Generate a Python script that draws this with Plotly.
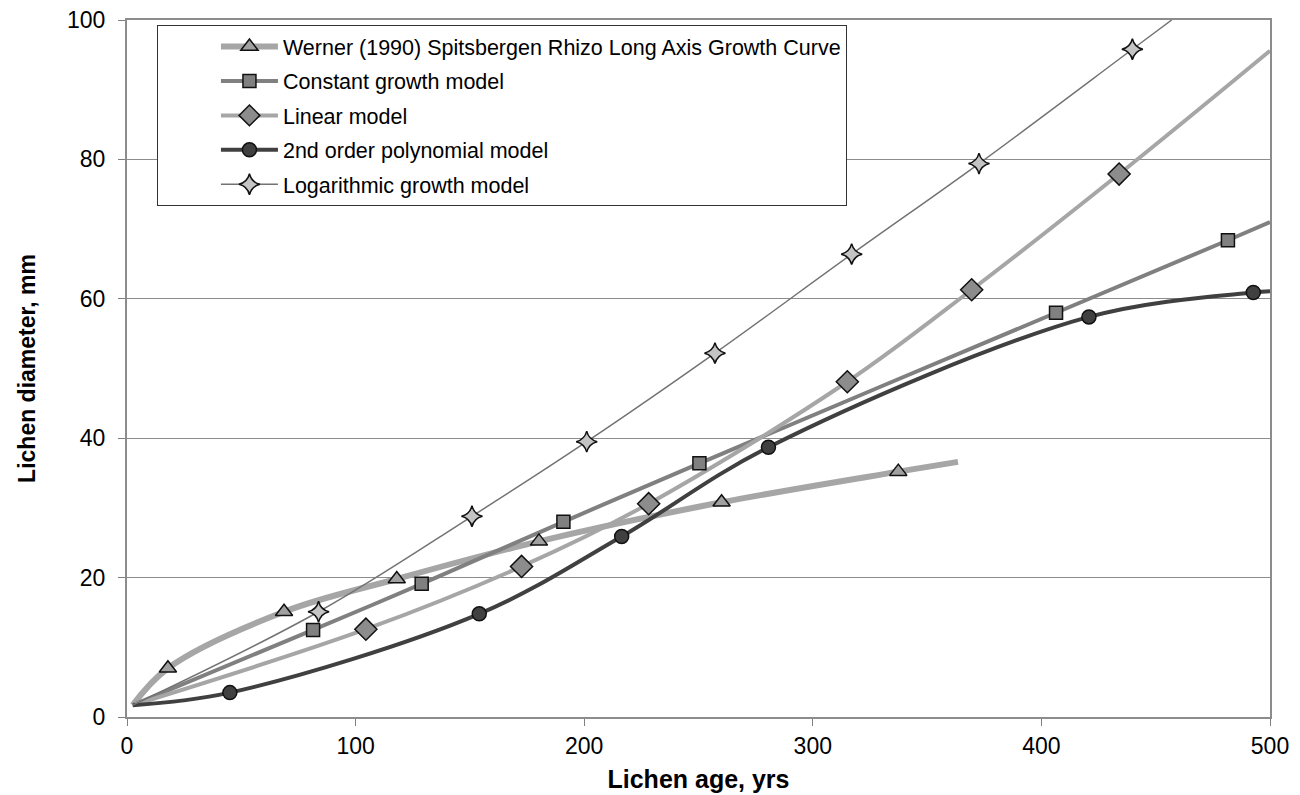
import plotly.graph_objects as go

# ---- data ----
werner_x = [2.5, 17.9, 68.7, 118.0, 180.2, 260.1, 337.4, 363.5]
werner_y = [1.7, 7.0, 15.1, 19.8, 25.2, 30.8, 35.2, 36.6]
werner_mx = [17.9, 68.7, 118.0, 180.2, 260.1, 337.4]
werner_my = [7.0, 15.1, 19.8, 25.2, 30.8, 35.2]

const_x = [2.5, 81.4, 128.9, 190.9, 250.4, 406.4, 481.6, 500.0]
const_y = [1.7, 12.5, 19.1, 28.0, 36.4, 58.0, 68.4, 71.0]
const_mx = [81.4, 128.9, 190.9, 250.4, 406.4, 481.6]
const_my = [12.5, 19.1, 28.0, 36.4, 58.0, 68.4]

lin_x = [2.5, 104.5, 172.6, 228.2, 315.1, 369.5, 434.0, 500.0]
lin_y = [1.7, 12.6, 21.6, 30.6, 48.1, 61.3, 77.9, 95.6]
lin_mx = [104.5, 172.6, 228.2, 315.1, 369.5, 434.0]
lin_my = [12.6, 21.6, 30.6, 48.1, 61.3, 77.9]

poly_x = [2.5, 45.0, 154.1, 216.4, 280.6, 420.8, 492.7, 500.0]
poly_y = [1.7, 3.5, 14.8, 25.9, 38.7, 57.4, 60.9, 61.1]
poly_mx = [45.0, 154.1, 216.4, 280.6, 420.8, 492.7]
poly_my = [3.5, 14.8, 25.9, 38.7, 57.4, 60.9]

log_x = [2.5, 83.8, 150.9, 201.1, 257.2, 317.0, 372.7, 439.8, 457.0]
log_y = [1.7, 15.1, 28.8, 39.5, 52.2, 66.4, 79.4, 95.8, 100.0]
log_mx = [83.8, 150.9, 201.1, 257.2, 317.0, 372.7, 439.8]
log_my = [15.1, 28.8, 39.5, 52.2, 66.4, 79.4, 95.8]

names = [
    "Werner (1990) Spitsbergen Rhizo Long Axis Growth Curve",
    "Constant growth model",
    "Linear model",
    "2nd order polynomial model",
    "Logarithmic growth model",
]
x_ticks = [0, 100, 200, 300, 400, 500]
y_ticks = [0, 20, 40, 60, 80, 100]

styles = [
    dict(lc="#a6a6a6", lw=6, sym="triangle-up", ms=15, mc="#a0a0a0"),
    dict(lc="#808080", lw=4, sym="square", ms=13, mc="#808080"),
    dict(lc="#a6a6a6", lw=4, sym="diamond", ms=17, mc="#8c8c8c"),
    dict(lc="#404040", lw=4, sym="circle", ms=14, mc="#404040"),
    dict(lc="#737373", lw=1.5, sym="star-diamond", ms=15, mc="#c4c4c4"),
]
series = [
    (werner_x, werner_y, werner_mx, werner_my),
    (const_x, const_y, const_mx, const_my),
    (lin_x, lin_y, lin_mx, lin_my),
    (poly_x, poly_y, poly_mx, poly_my),
    (log_x, log_y, log_mx, log_my),
]

fig = go.Figure()
for name, (lx, ly, mx, my), st in zip(names, series, styles):
    fig.add_trace(go.Scatter(x=lx, y=ly, mode="lines", showlegend=False,
                             line=dict(color=st["lc"], width=st["lw"], shape="spline", smoothing=1.0),
                             hoverinfo="skip"))
for name, (lx, ly, mx, my), st in zip(names, series, styles):
    fig.add_trace(go.Scatter(x=mx, y=my, mode="markers", showlegend=False,
                             marker=dict(symbol=st["sym"], size=st["ms"], color=st["mc"],
                                         line=dict(color="#111111", width=1.5))))
for i, (name, st) in enumerate(zip(names, styles)):
    fig.add_trace(go.Scatter(x=[None], y=[None], mode="lines+markers", name=name,
                             legendgroup="g%d" % i,
                             line=dict(color=st["lc"], width=st["lw"]),
                             marker=dict(symbol=st["sym"], size=st["ms"], color=st["mc"],
                                         line=dict(color="#111111", width=1.5))))

fig.update_layout(
    width=1300, height=795,
    margin=dict(l=119, r=38, t=12, b=86),
    paper_bgcolor="white", plot_bgcolor="white",
    font=dict(family="Liberation Sans, Arial, sans-serif", size=23, color="black"),
    legend=dict(x=0.0262, y=0.9928, xanchor="left", yanchor="top",
                bgcolor="white", bordercolor="#333333", borderwidth=1,
                font=dict(size=21.5), tracegroupgap=3.5, traceorder="grouped",
                itemwidth=57, indentation=58),
    xaxis=dict(range=[0, 500], tickvals=x_ticks, ticks="outside", ticklen=7,
               tickcolor="#808080", showgrid=False, zeroline=False, automargin=False,
               ticklabeloverflow="allow",
               showline=True, linecolor="#8c8c8c", linewidth=2, mirror=True,
               title=dict(text="<b>Lichen age, yrs</b>", standoff=13, font=dict(size=25))),
    yaxis=dict(range=[0, 100], tickvals=y_ticks, ticks="outside", ticklen=7,
               tickcolor="#808080", showgrid=True, gridcolor="#8c8c8c", gridwidth=1,
               zeroline=False, ticklabelstandoff=8, automargin=False,
               ticklabeloverflow="allow",
               showline=True, linecolor="#8c8c8c", linewidth=2, mirror=True,
               title=dict(text="<b>Lichen diameter, mm</b>", standoff=25, font=dict(size=23))),
)

fig.write_html("out.html")
